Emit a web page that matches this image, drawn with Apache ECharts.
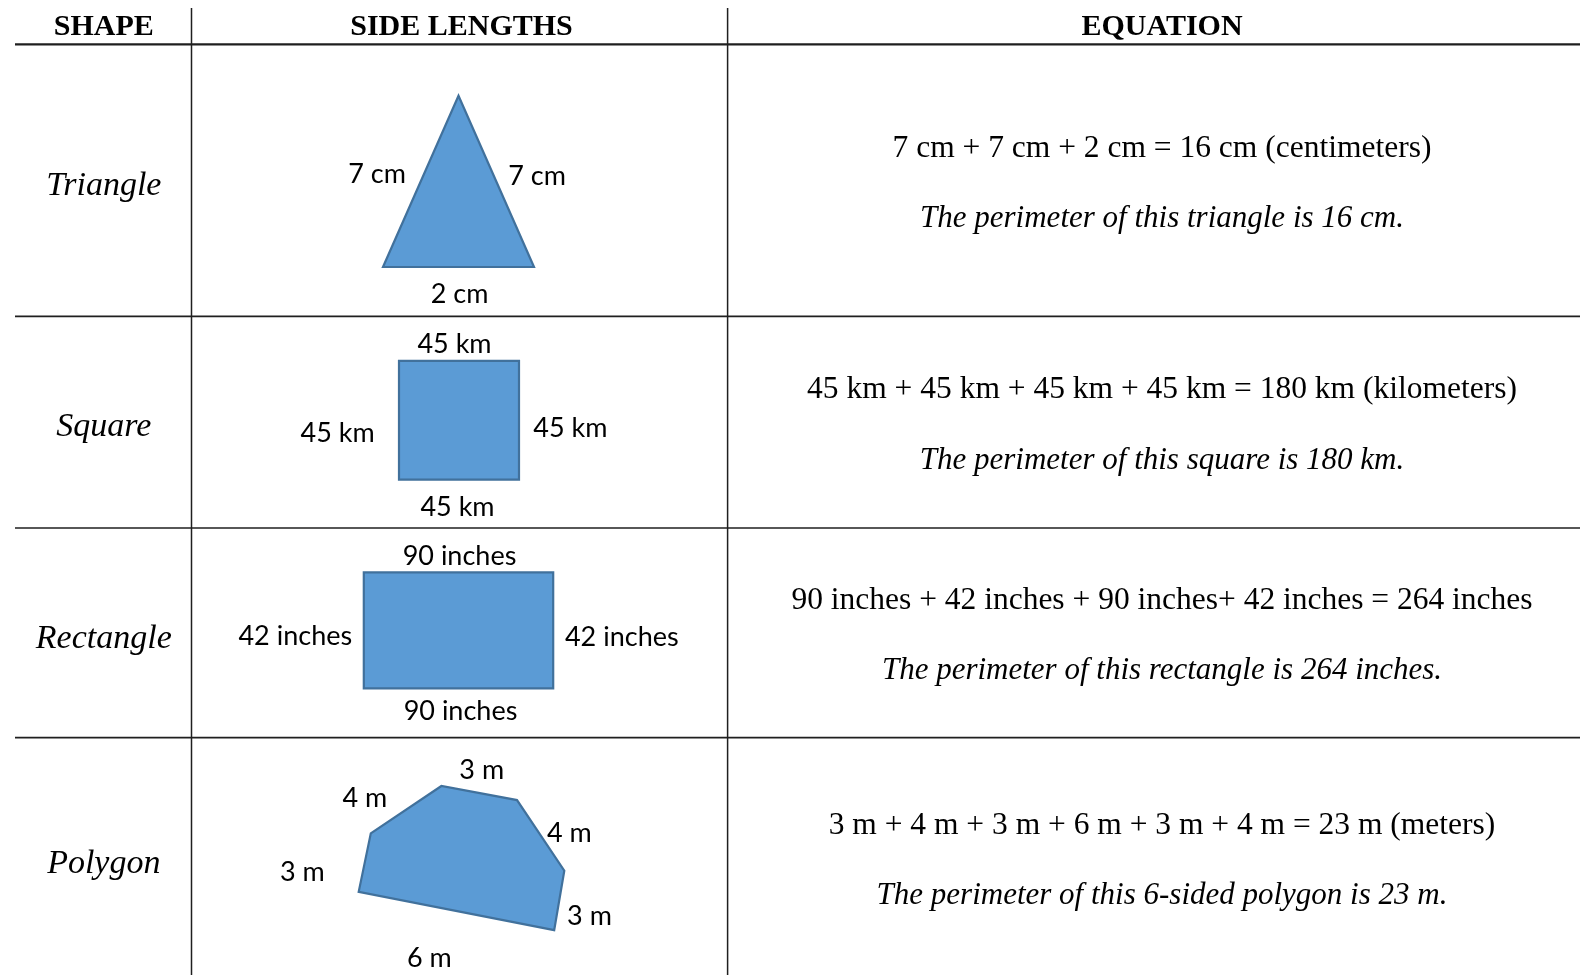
<!DOCTYPE html>
<html>
	<head>
		<meta charset="UTF-8">
		<title>Perimeter</title>
		<script type="text/javascript" src="https://cdn.jsdelivr.net/npm/echarts@6/dist/echarts.min.js"></script>
		<style>
			body { margin: 0; background: #fff; }
			#chart { width: 1580px; height: 975px; }
		</style>
	</head>
	<body>
		<div id="chart"></div>
	<script>
		// table rules (page units = pixels of the 1580x975 sheet)
		var ruleColX = [191.5, 727.6];
		var ruleRowY = [44.3, 316.4, 528, 737.6];

		var headers = ['SHAPE', 'SIDE LENGTHS', 'EQUATION'];
		var headerX = [103.8, 461.5, 1162];

		var shapeNames = ['Triangle', 'Square', 'Rectangle', 'Polygon'];
		var nameY = [185.6, 427.4, 639.1, 863.8];

		var equations = [
			'7 cm + 7 cm + 2 cm = 16 cm (centimeters)',
			'45 km + 45 km + 45 km + 45 km = 180 km (kilometers)',
			'90 inches + 42 inches + 90 inches+ 42 inches = 264 inches',
			'3 m + 4 m + 3 m + 6 m + 3 m + 4 m = 23 m (meters)'
		];
		var equationY = [148.6, 389.5, 601.1, 825.8];

		var perimeters = [
			'The perimeter of this triangle is 16 cm.',
			'The perimeter of this square is 180 km.',
			'The perimeter of this rectangle is 264 inches.',
			'The perimeter of this 6-sided polygon is 23 m.'
		];
		var perimeterY = [218.9, 460.7, 671.3, 896];

		// shape outlines
		var triangle = [[458.5, 95.7], [534, 267], [383, 267]];
		var square = [[399, 360.8], [519, 360.8], [519, 479.7], [399, 479.7]];
		var rectangle = [[363.8, 572.4], [553.2, 572.4], [553.2, 688.3], [363.8, 688.3]];
		var polygon = [[370.8, 833.4], [441.4, 786], [517, 800.1], [564.3, 870.7], [554.2, 930.1], [358.7, 891.8]];

		// side length labels
		var sideText = ['7 cm', '7 cm', '2 cm',
			'45 km', '45 km', '45 km', '45 km',
			'90 inches', '42 inches', '42 inches', '90 inches',
			'3 m', '4 m', '4 m', '3 m', '3 m', '6 m'];
		var sideX = [377, 537, 459.5,
			454.5, 337.6, 570.4, 457.5,
			459.5, 295.3, 621.8, 460.5,
			481.7, 364.8, 569.4, 302.3, 589.5, 429.3];
		var sideY = [174.3, 176.3, 294.2,
			344.6, 433.3, 428.3, 506.9,
			556.3, 635.9, 636.9, 711.4,
			769.9, 798.1, 833.4, 872.7, 916, 958.3];

		var shapes = [triangle, square, rectangle, polygon];

		function idx(n) {
			var a = [];
			for (var i = 0; i < n; i++) a.push([i, i]);
			return a;
		}

		function textSeries(texts, xs, ys, font) {
			return {
				type: 'custom',
				coordinateSystem: 'cartesian2d',
				clip: false,
				silent: true,
				data: idx(texts.length),
				renderItem: function (params, api) {
					var i = params.dataIndex;
					var x = Array.isArray(xs) ? xs[i] : xs;
					var y = Array.isArray(ys) ? ys[i] : ys;
					var p = api.coord([x, y]);
					return {
						type: 'text',
						x: p[0],
						y: p[1],
						style: {
							text: texts[i],
							fill: '#000',
							fontSize: font.size,
							fontFamily: font.family,
							fontWeight: font.weight || 'normal',
							fontStyle: font.style || 'normal',
							align: 'center',
							verticalAlign: 'middle'
						}
					};
				}
			};
		}

		var option = {
			animation: false,
			backgroundColor: '#fff',
			grid: { left: 0, right: 0, top: 0, bottom: 0 },
			xAxis: { type: 'value', min: 0, max: 1580, show: false },
			yAxis: { type: 'value', min: 0, max: 975, inverse: true, show: false },
			series: [
				{
					// table rules
					type: 'custom',
					coordinateSystem: 'cartesian2d',
					clip: false,
					silent: true,
					data: idx(ruleColX.length + ruleRowY.length),
					renderItem: function (params, api) {
						var i = params.dataIndex;
						var a, b, w;
						if (i < ruleColX.length) {
							a = api.coord([ruleColX[i], 8]);
							b = api.coord([ruleColX[i], 975]);
							w = 1.5;
						} else {
							var y = ruleRowY[i - ruleColX.length];
							a = api.coord([15, y]);
							b = api.coord([1580, y]);
							w = i == ruleColX.length ? 2.2 : 1.7;
						}
						return {
							type: 'line',
							shape: { x1: a[0], y1: a[1], x2: b[0], y2: b[1] },
							style: { stroke: '#1f1f1f', lineWidth: w }
						};
					}
				},
				{
					// blue shapes
					type: 'custom',
					coordinateSystem: 'cartesian2d',
					clip: false,
					silent: true,
					data: idx(shapes.length),
					renderItem: function (params, api) {
						var pts = shapes[params.dataIndex].map(function (p) { return api.coord(p); });
						return {
							type: 'polygon',
							shape: { points: pts },
							style: { fill: '#5b9bd5', stroke: '#41719c', lineWidth: 2.2, lineJoin: 'miter' }
						};
					}
				},
				textSeries(headers, headerX, 27.5, { size: 30, family: '"Liberation Serif", serif', weight: 'bold' }),
				textSeries(shapeNames, 103.8, nameY, { size: 34, family: '"Liberation Serif", serif', style: 'italic' }),
				textSeries(equations, 1162, equationY, { size: 31.5, family: '"Liberation Serif", serif' }),
				textSeries(perimeters, 1162, perimeterY, { size: 31, family: '"Liberation Serif", serif', style: 'italic' }),
				textSeries(sideText, sideX, sideY, { size: 27, family: 'Lato, "Noto Sans", sans-serif' })
			]
		};

		var chart = echarts.init(document.getElementById('chart'));
		chart.setOption(option);
		window.addEventListener('resize', function () { chart.resize(); });
	</script>
	</body>
</html>
